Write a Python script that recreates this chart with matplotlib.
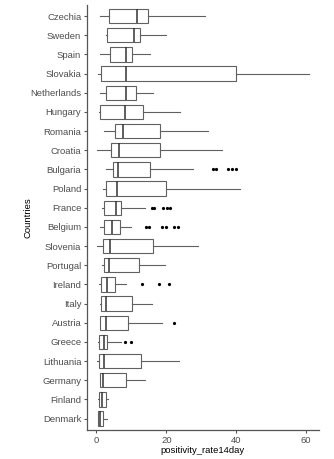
import matplotlib.pyplot as plt

plt.rcParams['font.family'] = ['Liberation Sans', 'DejaVu Sans']
plt.rcParams['axes.linewidth'] = 0.9

countries = ['Czechia', 'Sweden', 'Spain', 'Slovakia', 'Netherlands', 'Hungary',
             'Romania', 'Croatia', 'Bulgaria', 'Poland', 'France', 'Belgium',
             'Slovenia', 'Portugal', 'Ireland', 'Italy', 'Austria', 'Greece',
             'Lithuania', 'Germany', 'Finland', 'Denmark']

# whisker low, Q1, median, Q3, whisker high
whislo = [1.1, 2.6, 1.1, 0.4, 0.9, 0.7, 2.2, 0.2, 2.8, 1.8, 1.5, 1.0,
          0.3, 1.6, 0.7, 0.9, 1.1, 0.5, 0.2, 0.9, 0.5, 0.5]
q1 = [3.5, 2.9, 4.0, 1.4, 2.7, 1.0, 5.3, 4.3, 4.6, 2.6, 2.2, 2.3,
      1.9, 2.3, 1.4, 1.3, 1.15, 0.7, 0.7, 1.06, 0.7, 0.57]
med = [11.6, 10.8, 8.6, 8.4, 8.4, 8.1, 7.6, 6.4, 6.1, 5.8, 5.5, 4.4,
       3.8, 3.7, 2.9, 2.8, 2.6, 2.3, 2.3, 1.8, 1.6, 0.97]
q3 = [14.9, 12.6, 10.2, 40.0, 11.4, 13.4, 18.3, 18.1, 15.4, 20.0, 7.1, 6.6,
      16.3, 12.3, 5.3, 10.1, 9.1, 3.1, 12.8, 8.4, 2.6, 1.8]
whishi = [31.0, 20.0, 15.3, 60.9, 16.3, 24.0, 31.9, 35.9, 27.7, 41.0, 13.8, 10.0,
          29.1, 19.5, 8.4, 16.0, 18.9, 6.9, 23.5, 13.8, 3.4, 3.0]
outliers = {
    'Bulgaria': [33.5, 34.1, 37.8, 38.9, 39.9],
    'France': [15.8, 16.6, 19.1, 20.1, 21.1],
    'Belgium': [14.1, 15.0, 18.9, 19.8, 22.3, 23.3],
    'Ireland': [13.0, 17.9, 20.7],
    'Austria': [22.1],
    'Greece': [8.2, 9.9],
}

stats = []
for i, c in enumerate(countries):
    stats.append(dict(whislo=whislo[i], q1=q1[i], med=med[i], q3=q3[i],
                      whishi=whishi[i], fliers=outliers.get(c, [])))

n = len(countries)
pos = [n - 1 - i for i in range(n)]

fig = plt.figure(figsize=(3.34, 4.59), dpi=100)
ax = fig.add_axes([0.26, 0.063, 0.695, 0.927])

line_col = '#606060'
ax.bxp(stats, positions=pos, vert=False, widths=0.75, patch_artist=True,
       showcaps=False,
       boxprops=dict(facecolor='white', edgecolor=line_col, linewidth=0.8),
       medianprops=dict(color='#333333', linewidth=1.1),
       whiskerprops=dict(color=line_col, linewidth=0.8),
       flierprops=dict(marker='o', markersize=1.3, markerfacecolor='black',
                       markeredgecolor='black', linestyle='none'))

ax.set_yticks(pos)
ax.set_yticklabels(countries)
ax.set_ylim(-0.6, n - 0.4)
ax.set_xlim(-2.75, 63.7)
ax.set_xticks([0, 20, 40, 60])

for s in ['top', 'right']:
    ax.spines[s].set_visible(False)
for s in ['left', 'bottom']:
    ax.spines[s].set_color('#555555')
ax.tick_params(axis='both', colors='#555555', labelcolor='#4d4d4d',
               labelsize=6.8, length=2.5, width=0.8, pad=1.5)

ax.set_xlabel('positivity_rate14day', fontsize=6.8, labelpad=1)
ax.set_ylabel('Countries', fontsize=6.8)
ax.yaxis.set_label_coords(-0.236, 0.5)

fig.savefig('out.png', dpi=100)
